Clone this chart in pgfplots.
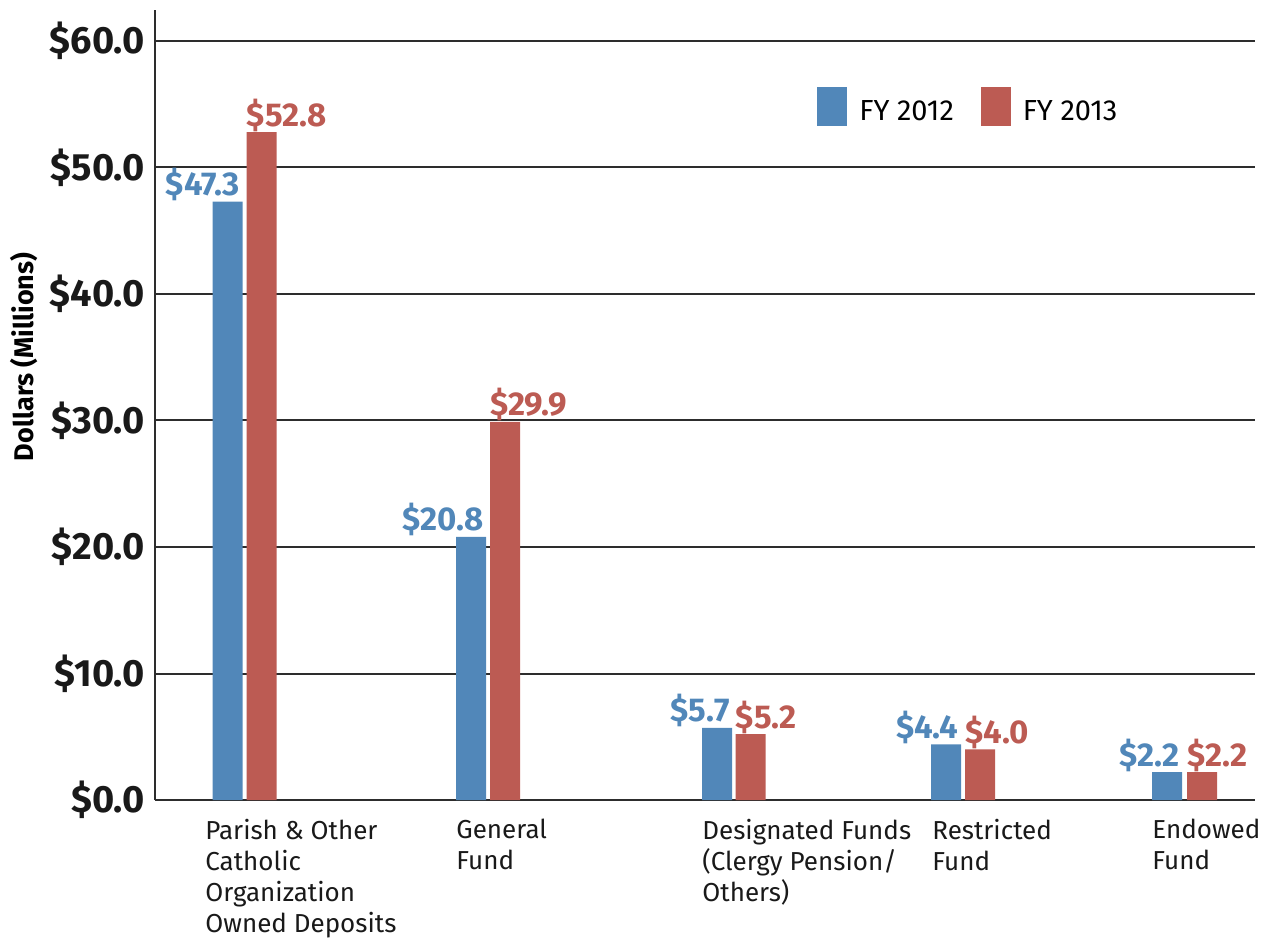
\documentclass[border=0pt]{standalone}
\usepackage{fontspec}
\setmainfont{Fira Sans}
\usepackage{pgfplots}
\pgfplotsset{compat=1.18}
\definecolor{fyblue}{RGB}{81,135,185}
\definecolor{fyred}{RGB}{188,91,83}
\definecolor{axisgray}{RGB}{45,45,45}

\begin{document}
\begin{tikzpicture}
\path[use as bounding box] (0,0) rectangle (636pt,468.5pt);
\begin{axis}[
    at={(77.5pt,68.5pt)}, anchor=south west,
    scale only axis, width=550pt, height=395pt,
    xmin=155, xmax=1255, ymin=0, ymax=62.45,
    axis x line*=bottom, axis y line*=left,
    axis line style={line width=1.4pt, color=axisgray},
    ymajorgrids, grid style={line width=1pt, color=axisgray},
    major tick length=0pt,
    ytick={0,10,...,60},
    /pgf/number format/assume math mode=true,
    yticklabel={\$\pgfmathprintnumber[fixed,fixed zerofill,precision=1]{\tick}},
    yticklabel style={anchor=east, inner sep=0pt, xshift=-5pt,
        font=\fontsize{19}{19}\selectfont\bfseries, text=black!90},
    xtick={205,456,702,932,1152},
    xticklabels={{Parish \& Other\\Catholic\\Organization\\Owned Deposits},
                 {General\\Fund},
                 {Designated Funds\\(Clergy Pension/\\Others)},
                 {Restricted\\Fund},
                 {Endowed\\Fund}},
    xticklabel style={anchor=north west, align=left, inner sep=0pt, yshift=-9.5pt,
        font=\fontsize{13}{15.5}\selectfont, text=black!90},
    ylabel={Dollars (Millions)},
    every axis y label/.style={at={(axis description cs:-0.119,0.561)},
        rotate=90, anchor=center, font=\fontsize{13.5}{14}\selectfont\bfseries},
    ybar, bar width=30,
    legend columns=2,
    legend style={draw=none, fill=none, at={(axis cs:817,56.36)}, anchor=north west,
        inner sep=0pt, font=\fontsize{14.5}{15}\selectfont,
        /tikz/every even column/.append style={column sep=7.5pt},
        nodes={inner xsep=6pt}},
    clip=false,
]
\addplot[bar shift=0pt, fill=fyblue, draw=none,
    legend image code/.code={\fill[fyblue] (0pt,-7.25pt) rectangle (15pt,12.25pt);},
    nodes near coords={\$\pgfmathprintnumber[fixed,fixed zerofill,precision=1]{\pgfplotspointmeta}},
    every node near coord/.append style={anchor=base east, inner sep=0pt, xshift=6.5pt, yshift=3pt,
        font=\fontsize{16.5}{16.5}\selectfont\bfseries, text=fyblue}]
    coordinates {(227.5,47.3) (471,20.8) (717,5.7) (946,4.4) (1167,2.2)};
\addlegendentry{FY 2012}
\addplot[bar shift=0pt, fill=fyred, draw=none,
    legend image code/.code={\fill[fyred] (0pt,-7.25pt) rectangle (15pt,12.25pt);},
    nodes near coords={\$\pgfmathprintnumber[fixed,fixed zerofill,precision=1]{\pgfplotspointmeta}},
    every node near coord/.append style={anchor=base west, inner sep=0pt, xshift=-7.5pt, yshift=3pt,
        font=\fontsize{16.5}{16.5}\selectfont\bfseries, text=fyred}]
    coordinates {(261.5,52.8) (505,29.9) (750.5,5.2) (980,4.0) (1202,2.2)};
\addlegendentry{FY 2013}
\end{axis}
\end{tikzpicture}
\end{document}
